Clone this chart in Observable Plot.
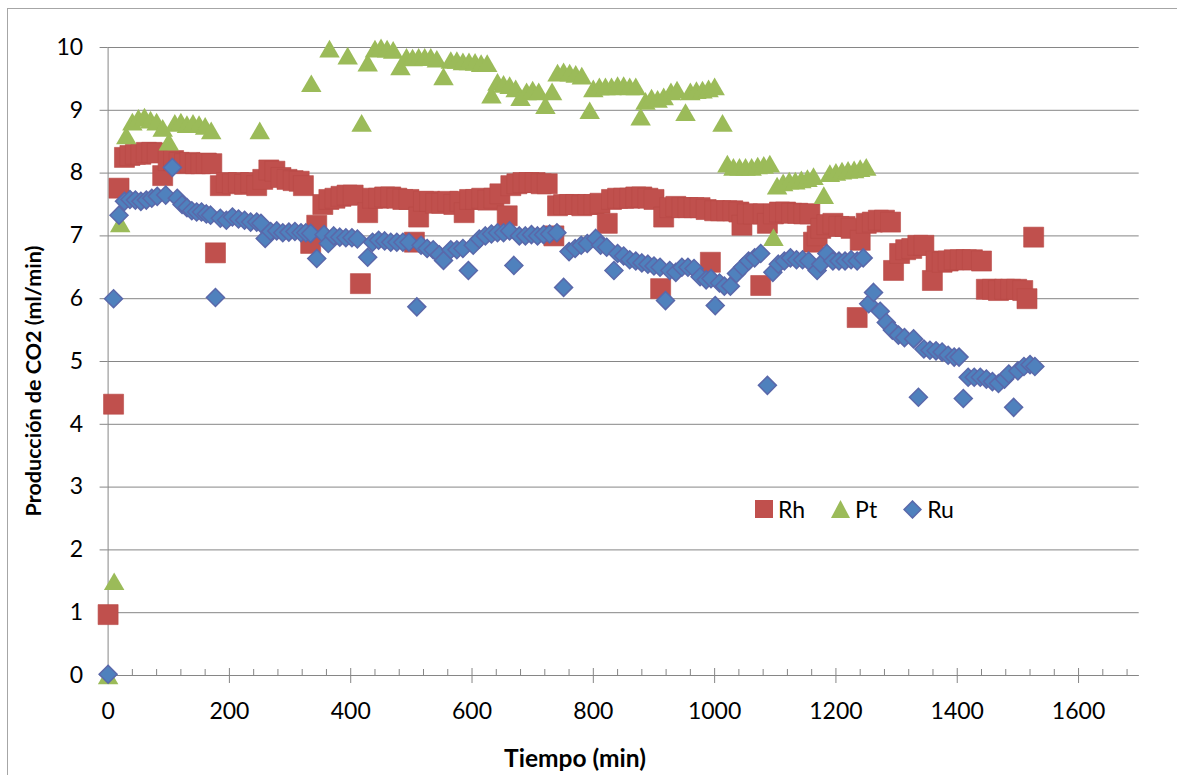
<!DOCTYPE html>
<html><head><meta charset="utf-8">
<script src="https://cdn.jsdelivr.net/npm/d3@7"></script>
<script src="https://cdn.jsdelivr.net/npm/@observablehq/plot@0.6"></script>
<style>
body{margin:0;background:#fff;}
#wrap{position:relative;width:1177px;height:775px;overflow:hidden;font-family:Lato,"Open Sans",sans-serif;color:#000;}
#border{position:absolute;left:7px;top:8px;width:1250px;height:850px;border:1px solid #a6a6a6;box-sizing:border-box;}
#chart{position:absolute;left:0;top:0;}
#legend{position:absolute;left:755px;top:496px;display:flex;align-items:center;font-size:23px;line-height:26px;}
#legend .it{display:flex;align-items:center;}
#legend svg{display:block;}
.ttl{position:absolute;font-weight:bold;white-space:nowrap;}
#xt{left:575px;top:743px;transform:translateX(-50%);font-size:24.5px;}
#yt{left:33px;top:381px;transform:translate(-50%,-50%) rotate(-90deg);font-size:21.5px;}
</style></head><body>
<div id="wrap"><div id="border"></div><div id="chart"></div><div id="legend"></div>
<div class="ttl" id="xt">Tiempo (min)</div>
<div class="ttl" id="yt">Producción de CO2 (ml/min)</div>
</div>
<script>
// Series: [tiempo (min), producción CO2 (ml/min)]
const seriesNames = ["Rh","Pt","Ru"];
const seriesColors = ["#C0504D","#9BBB59","#4F81BD"];

const rh = [[0,0.97],[9,4.32],[18,7.76],[27,8.25],[36,8.28],[45,8.3],[54,8.3],[63,8.33],[72,8.33],[81,8.32],[90,7.96],[99,8.2],[108,8.2],[117,8.17],[126,8.15],[135,8.17],[144,8.15],[153,8.15],[162,8.16],[171,8.15],[177,6.73],[185,7.8],[195,7.85],[205,7.83],[215,7.85],[225,7.82],[235,7.85],[245,7.8],[255,7.9],[265,8.05],[275,8.03],[285,7.93],[295,7.9],[305,7.88],[315,7.87],[322,7.8],[334,6.88],[344,7.17],[354,7.5],[364,7.58],[374,7.6],[384,7.63],[394,7.65],[404,7.65],[416,6.24],[428,7.37],[436,7.6],[446,7.6],[456,7.62],[466,7.62],[476,7.6],[486,7.58],[496,7.58],[505,6.9],[512,7.3],[520,7.55],[530,7.55],[540,7.52],[550,7.52],[560,7.55],[570,7.5],[580,7.55],[587,7.37],[596,7.58],[606,7.58],[616,7.6],[626,7.57],[636,7.6],[646,7.67],[658,7.32],[664,7.8],[674,7.83],[684,7.85],[694,7.85],[704,7.85],[714,7.83],[724,7.83],[735,7.0],[741,7.48],[751,7.5],[761,7.5],[771,7.5],[781,7.48],[791,7.5],[801,7.5],[811,7.52],[823,7.2],[830,7.58],[840,7.6],[850,7.6],[860,7.6],[870,7.62],[880,7.62],[890,7.6],[900,7.58],[911,6.16],[916,7.3],[926,7.45],[936,7.47],[946,7.45],[956,7.45],[966,7.45],[976,7.45],[986,7.42],[993,6.58],[1000,7.4],[1010,7.4],[1020,7.4],[1030,7.4],[1040,7.38],[1045,7.17],[1054,7.35],[1064,7.35],[1076,6.21],[1080,7.35],[1087,7.2],[1097,7.35],[1107,7.38],[1117,7.38],[1127,7.36],[1137,7.36],[1147,7.35],[1157,7.35],[1163,6.9],[1169,7.0],[1175,7.12],[1185,7.18],[1195,7.2],[1205,7.15],[1215,7.15],[1225,7.12],[1235,5.7],[1240,6.93],[1250,7.2],[1260,7.22],[1270,7.25],[1280,7.25],[1290,7.22],[1295,6.45],[1305,6.72],[1315,6.78],[1325,6.8],[1335,6.85],[1345,6.85],[1359,6.29],[1365,6.6],[1375,6.58],[1385,6.6],[1395,6.62],[1405,6.62],[1415,6.62],[1425,6.62],[1440,6.6],[1448,6.15],[1458,6.15],[1468,6.13],[1478,6.15],[1488,6.15],[1498,6.15],[1508,6.13],[1515,6.0],[1526,6.98]];

const pt = [[0,0],[10,1.5],[20,7.2],[30,8.6],[40,8.82],[50,8.88],[60,8.9],[70,8.85],[80,8.82],[90,8.72],[100,8.5],[110,8.8],[120,8.82],[130,8.78],[140,8.8],[150,8.78],[160,8.75],[170,8.68],[250,8.68],[335,9.43],[365,9.98],[395,9.87],[418,8.8],[428,9.76],[440,9.98],[450,10.0],[460,9.98],[470,9.96],[482,9.7],[492,9.85],[502,9.84],[512,9.85],[522,9.85],[532,9.85],[542,9.82],[553,9.54],[565,9.8],[575,9.8],[585,9.78],[595,9.78],[605,9.77],[615,9.75],[625,9.75],[632,9.25],[642,9.45],[652,9.42],[662,9.4],[672,9.35],[680,9.21],[690,9.3],[700,9.33],[710,9.3],[721,9.08],[732,9.3],[741,9.6],[751,9.62],[761,9.6],[771,9.58],[781,9.55],[794,9.0],[800,9.35],[810,9.38],[820,9.38],[830,9.38],[840,9.4],[850,9.4],[860,9.38],[870,9.38],[878,8.9],[886,9.15],[896,9.2],[906,9.18],[916,9.22],[928,9.3],[938,9.33],[952,8.97],[960,9.3],[970,9.32],[980,9.33],[990,9.35],[1000,9.38],[1013,8.8],[1021,8.15],[1031,8.1],[1041,8.1],[1051,8.1],[1061,8.1],[1071,8.12],[1081,8.13],[1091,8.15],[1097,6.98],[1103,7.8],[1113,7.85],[1123,7.88],[1133,7.88],[1143,7.9],[1153,7.92],[1163,7.95],[1180,7.65],[1190,8.0],[1200,8.02],[1210,8.04],[1220,8.05],[1230,8.06],[1240,8.08],[1250,8.1]];

const ru = [[0,0.02],[9,6.0],[18,7.33],[27,7.55],[36,7.58],[45,7.57],[54,7.55],[63,7.57],[72,7.6],[81,7.63],[95,7.65],[106,8.09],[114,7.6],[122,7.5],[130,7.45],[138,7.4],[146,7.38],[154,7.38],[162,7.35],[169,7.33],[177,6.02],[185,7.28],[195,7.25],[205,7.3],[215,7.27],[225,7.25],[235,7.22],[245,7.22],[252,7.2],[259,6.96],[268,7.07],[278,7.08],[288,7.05],[298,7.06],[308,7.07],[318,7.05],[326,7.05],[334,7.04],[344,6.64],[356,7.02],[363,6.88],[372,7.0],[382,6.98],[392,6.97],[402,6.97],[411,6.95],[428,6.66],[436,6.9],[446,6.93],[456,6.92],[466,6.9],[476,6.9],[486,6.9],[496,6.9],[509,5.87],[516,6.85],[526,6.8],[536,6.78],[546,6.7],[553,6.61],[565,6.78],[575,6.78],[585,6.8],[594,6.45],[602,6.85],[612,6.95],[622,7.0],[632,7.03],[642,7.05],[652,7.05],[662,7.08],[669,6.53],[678,7.0],[688,7.0],[698,7.02],[708,7.0],[718,7.02],[728,7.03],[740,7.05],[751,6.18],[760,6.75],[770,6.8],[780,6.85],[790,6.88],[804,6.96],[812,6.85],[822,6.82],[834,6.45],[840,6.72],[850,6.68],[860,6.62],[870,6.6],[880,6.57],[890,6.55],[900,6.52],[910,6.5],[919,5.97],[926,6.45],[936,6.42],[946,6.5],[956,6.5],[966,6.48],[976,6.35],[986,6.3],[994,6.32],[1001,5.89],[1008,6.25],[1016,6.2],[1026,6.2],[1036,6.4],[1046,6.5],[1056,6.6],[1066,6.65],[1076,6.72],[1087,4.62],[1096,6.42],[1105,6.55],[1115,6.6],[1125,6.65],[1135,6.62],[1145,6.62],[1155,6.6],[1169,6.45],[1175,6.55],[1185,6.72],[1195,6.6],[1205,6.6],[1215,6.6],[1225,6.62],[1235,6.6],[1245,6.65],[1254,5.92],[1262,6.1],[1273,5.8],[1283,5.62],[1293,5.5],[1303,5.42],[1313,5.38],[1328,5.36],[1336,4.43],[1345,5.2],[1355,5.18],[1365,5.17],[1375,5.15],[1385,5.1],[1395,5.07],[1403,5.07],[1410,4.41],[1418,4.75],[1428,4.75],[1438,4.75],[1448,4.72],[1458,4.68],[1468,4.65],[1478,4.72],[1485,4.8],[1493,4.27],[1500,4.85],[1510,4.92],[1520,4.95],[1528,4.92]];

const xTicks = [0,200,400,600,800,1000,1200,1400,1600];
const yTicks = [0,1,2,3,4,5,6,7,8,9,10];
const xMinor = d3.range(40,1700,40).filter(v => v % 200 !== 0);

const W = 1177, H = 775;
const grid = "#868686";
const toObj = a => a.map(([t,v]) => ({t, v}));

const chart = Plot.plot({
  width: W, height: H,
  marginLeft: 107.6, marginRight: W - 1138.7, marginTop: 47, marginBottom: H - 675,
  x: {domain: [0,1700]},
  y: {domain: [0,10]},
  style: {fontFamily: "Lato, 'Open Sans', sans-serif", color: "#000", background: "transparent", overflow: "visible"},
  marks: [
    Plot.gridY(yTicks, {stroke: grid, strokeOpacity: 1}),
    Plot.ruleX([0], {stroke: grid}),
    Plot.ruleY([0], {stroke: grid}),
    Plot.axisY({ticks: yTicks, tickSize: 8, tickPadding: 17, stroke: grid, fontSize: 23, label: null, tickFormat: d => String(d)}),
    Plot.axisX({ticks: xTicks, tickSize: 8, tickPadding: 19, stroke: grid, fontSize: 23, label: null, tickFormat: d => String(d)}),
    Plot.axisX({ticks: xTicks, tickSize: -7, text: null, stroke: grid, label: null}),
    Plot.axisX({ticks: xMinor, tickSize: -6, text: null, stroke: grid, label: null}),
    Plot.dot(toObj(rh), {x: "t", y: "v", symbol: "square", r: 11.3, fill: seriesColors[0], stroke: "#b84a47", strokeWidth: 0.6}),
    Plot.dot(toObj(pt), {x: "t", y: "v", symbol: "triangle", r: 7.6, dy: 2.9, fill: seriesColors[1]}),
    Plot.dot(toObj(ru), {x: "t", y: "v", symbol: "diamond2", r: 8.1, fill: seriesColors[2], stroke: "#5a68aa", strokeWidth: 1.5})
  ]
});
document.getElementById("chart").appendChild(chart);

// legend
const shapes = [
  `<svg width="18" height="18"><rect x="0" y="0" width="18" height="18" fill="${seriesColors[0]}"/></svg>`,
  `<svg width="19" height="18"><polygon points="9.5,0 19,18 0,18" fill="${seriesColors[1]}"/></svg>`,
  `<svg width="19" height="19"><polygon points="9.5,1 18,9.5 9.5,18 1,9.5" fill="${seriesColors[2]}" stroke="#5a68aa" stroke-width="1.5"/></svg>`
];
const gaps = [26, 26, 0];
const leg = document.getElementById("legend");
seriesNames.forEach((n,i) => {
  const d = document.createElement("div");
  d.className = "it";
  d.style.marginRight = gaps[i] + "px";
  d.innerHTML = shapes[i] + `<span style="margin-left:5px">${n}</span>`;
  leg.appendChild(d);
});
</script>
</body></html>
